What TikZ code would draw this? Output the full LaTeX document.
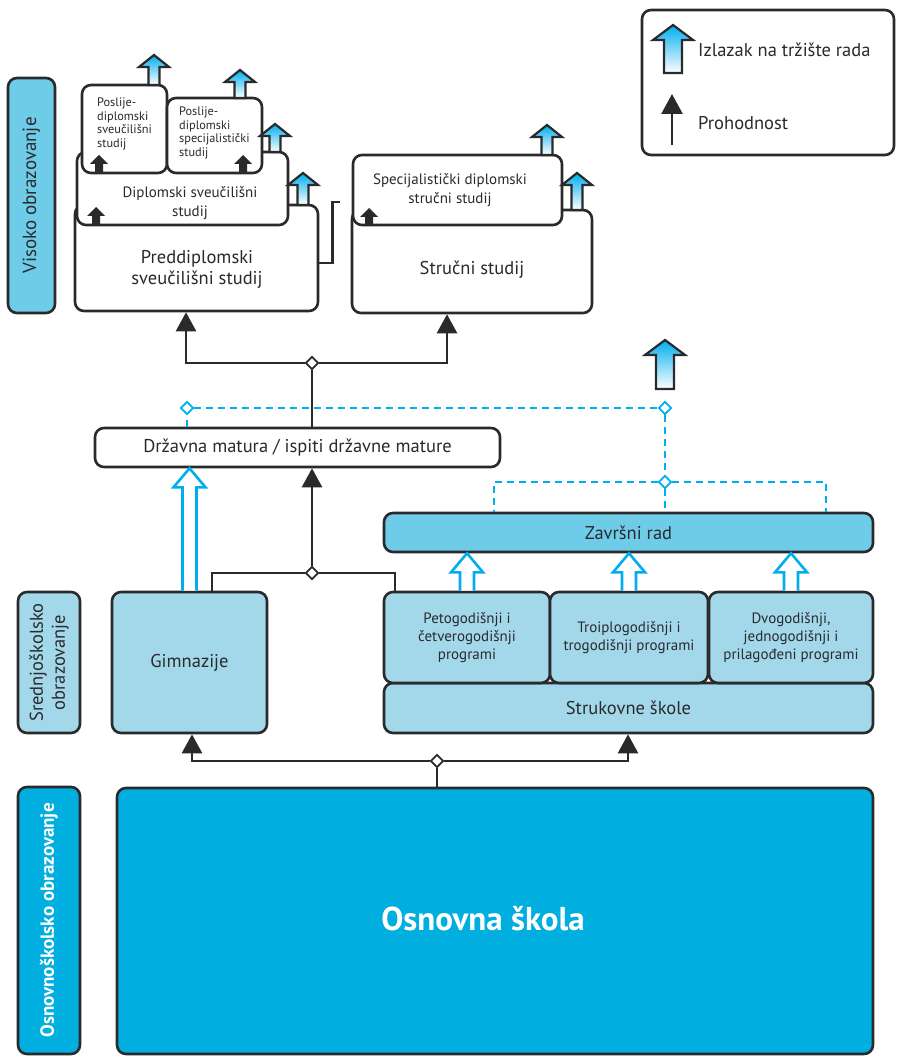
\documentclass[tikz,border=0pt]{standalone}
\usepackage{fontspec}
\setmainfont{PT Sans}
\usetikzlibrary{
    shapes.geometric,
    arrows.meta,
    positioning,
    calc
}

\definecolor{linec}{RGB}{42,42,44}
\definecolor{exitblue}{RGB}{0,174,239}
\definecolor{boxA}{RGB}{111,204,232}
\definecolor{boxB}{RGB}{163,216,235}
\definecolor{basec}{RGB}{0,174,224}

% exit arrow: x, base y, tip y, shaft half, head half, head length
\newcommand{\exitarrow}[6]{%
    \draw[exitline, top color=exitblue, bottom color=white]
        (#1-#4,#2) -- (#1-#4,#3+#6) -- (#1-#5,#3+#6) -- (#1,#3)
        -- (#1+#5,#3+#6) -- (#1+#4,#3+#6) -- (#1+#4,#2) -- cycle;}
% small pass arrow inside a box: x, base y, tip y
\newcommand{\passarrow}[3]{%
    \fill[linec] (#1-4,#2) -- (#1-4,#3+9) -- (#1-9,#3+9) -- (#1,#3)
        -- (#1+9,#3+9) -- (#1+4,#3+9) -- (#1+4,#2) -- cycle;}
% hollow blue arrow from one node up to another
\newcommand{\hollowup}[2]{%
    \draw[hollow] let \p1=(#1.north), \p2=(#2.south) in
        (\x1-7pt,\y1) -- (\x1-7pt,\y2-19pt) -- (\x1-16pt,\y2-19pt) -- (\x1,\y2)
        -- (\x1+16pt,\y2-19pt) -- (\x1+7pt,\y2-19pt) -- (\x1+7pt,\y1);}

\begin{document}
\begin{tikzpicture}[
    x=1pt, y=-1pt,
    box/.style={draw=linec, line width=2.6pt, rounded corners=9pt, text=linec,
                align=center, inner sep=0pt},
    hebox/.style={box, fill=white},
    midbox/.style={box, fill=boxB},
    txt/.style={text=linec, align=center, inner sep=0pt},
    big/.style={font=\fontsize{18.5}{21}\selectfont},
    mid/.style={font=\fontsize{15}{18.3}\selectfont},
    small/.style={font=\fontsize{12.3}{13.5}\selectfont},
    conn/.style={draw=linec, line width=2.6pt},
    pass/.style={conn, -{Triangle[length=19pt, width=20pt]}},
    dashb/.style={draw=exitblue, line width=2.6pt, dash pattern=on 7pt off 5pt},
    dia/.style={diamond, draw=linec, fill=white, line width=1.8pt, minimum size=13pt, inner sep=0pt},
    bdia/.style={dia, draw=exitblue},
    exitline/.style={draw=linec, line width=2.2pt, line join=miter},
    hollow/.style={draw=exitblue, fill=white, line width=2.6pt, line join=miter}
]
    \useasboundingbox (0,0) rectangle (896,1056);

    % Level labels
    \node[box, fill=boxA, rotate=90, minimum width=235pt, minimum height=47pt,
          font=\fontsize{19}{21}\selectfont] (lvis) at (31.5,195.5) {Visoko obrazovanje};
    \node[midbox, rotate=90, minimum width=141pt, minimum height=62pt,
          font=\fontsize{18.5}{22}\selectfont] (lsred) at (49,662.5) {Srednjoškolsko\\obrazovanje};
    \node[box, fill=basec, rotate=90, minimum width=267pt, minimum height=62pt, text=white,
          font=\bfseries\fontsize{19}{22}\selectfont] (losn) at (49,920.5) {Osnovnoškolsko obrazovanje};

    % Higher education
    \node[hebox, minimum width=243pt, minimum height=106pt] (pred) at (196.5,258) {};
    \node[txt, big] (predtxt) at (197,269) {Preddiplomski\\sveučilišni studij};
    \node[hebox, minimum width=211pt, minimum height=73pt] (dipl) at (182.5,188.5) {};
    \node[txt, mid] (dipltxt) at (190,203) {Diplomski sveučilišni\\studij};
    \node[hebox, minimum width=85pt, minimum height=88pt] (psv) at (124.5,129) {};
    \node[txt, small, align=left, anchor=north west] (psvtxt) at (97,98) {Poslije-\\diplomski\\sveučilišni\\studij};
    \node[hebox, minimum width=95pt, minimum height=75pt] (psp) at (214.5,135.5) {};
    \node[txt, small, align=left, anchor=north west] (psptxt) at (179,107) {Poslije-\\diplomski\\specijalistički\\studij};

    \node[hebox, minimum width=240pt, minimum height=103pt] (stru) at (472,261.5) {};
    \node[txt, big] (strutxt) at (472,270) {Stručni studij};
    \node[hebox, minimum width=209pt, minimum height=70pt] (spec) at (457.5,190) {};
    \node[txt, mid] (spectxt) at (450,190) {Specijalistički diplomski\\stručni studij};

    % Secondary level
    \node[hebox, big, minimum width=405pt, minimum height=39pt] (mat) at (297.5,447.5) {Državna matura / ispiti državne mature};
    \node[box, fill=boxA, big, minimum width=489pt, minimum height=39pt] (zav) at (628.5,532.5) {Završni rad};
    \node[midbox, big, minimum width=489pt, minimum height=50pt] (struk) at (628.5,708) {Strukovne škole};
    \node[midbox, mid, minimum width=166pt, minimum height=91pt] (prog1) at (467,637.5) {Petogodišnji i\\četverogodišnji\\programi};
    \node[midbox, mid, minimum width=158pt, minimum height=91pt] (prog2) at (629,637.5) {Troiplogodišnji i\\trogodišnji programi};
    \node[midbox, mid, minimum width=164pt, minimum height=91pt] (prog3) at (791,637.5) {Dvogodišnji,\\jednogodišnji i\\prilagođeni programi};
    \node[midbox, big, minimum width=155pt, minimum height=141pt] (gim) at (189.5,662.5) {Gimnazije};

    % Primary level
    \node[box, fill=basec, minimum width=756pt, minimum height=266pt] (osn) at (495,921) {};
    \node[txt, text=white, font=\bfseries\fontsize{33}{36}\selectfont] (osntxt) at (483,919) {Osnovna škola};

    % Legend
    \node[hebox, minimum width=252pt, minimum height=145pt] (leg) at (768,82.5) {};
    \node[txt, anchor=west, font=\fontsize{18.5}{21}\selectfont] (legexit) at (698,50) {Izlazak na tržište rada};
    \node[txt, anchor=west, font=\fontsize{18.5}{21}\selectfont] (legpass) at (698,123) {Prohodnost};
    \coordinate (lp1) at (672,145);
    \coordinate (lp2) at (672,94);
    \draw[pass, -{Triangle[length=20pt, width=21pt]}] (lp1) -- (lp2);

    % Diamonds
    \node[dia] (d1) at (312,363) {};
    \node[dia] (d2) at (312,573) {};
    \node[dia] (d3) at (437,761) {};
    \node[bdia] (d4) at (187,408) {};
    \node[bdia] (d5) at (665,408) {};
    \node[bdia] (d6) at (665,482) {};

    % Black connectors
    \draw[conn] (d1 |- mat.north) -- (d1);
    \draw[pass] (d1) -| ([xshift=-10.5pt]pred.south);
    \draw[pass] (d1) -| ([xshift=-25pt]stru.south);
    \draw[conn] ([xshift=22.5pt]gim.north) |- (d2);
    \draw[conn] (d2) -| ([xshift=-72pt]prog1.north);
    \draw[pass] (d2) -- (d2 |- mat.south);
    \draw[conn] (d3 |- osn.north) -- (d3);
    \draw[pass] (d3) -| ([xshift=2.5pt]gim.south);
    \draw[pass] (d3) -| ([xshift=-0.5pt]struk.south);
    \coordinate (predout) at (340,202);
    \draw[conn] ([yshift=-5pt]pred.east) -- ++(13,0) |- (predout);

    % Blue dashed connectors
    \draw[dashb] (d4 |- mat.north) -- (d4);
    \draw[dashb] (d4) -- (d5);
    \draw[dashb] (d5) -- (d6);
    \draw[dashb] (d6) -- (d6 |- zav.north);
    \draw[dashb] (d6) -| ([xshift=-134.5pt]zav.north);
    \draw[dashb] (d6) -| ([xshift=197.5pt]zav.north);

    % Hollow arrows
    \hollowup{gim}{mat}
    \hollowup{prog1}{zav}
    \hollowup{prog2}{zav}
    \hollowup{prog3}{zav}

    % Exit arrows
    \exitarrow{154}{85}{55}{5.5}{15}{12}
    \exitarrow{240}{98}{70}{5.5}{15}{12}
    \exitarrow{275}{152}{124}{5.5}{15}{12}
    \exitarrow{303}{205}{173}{5.5}{15}{12}
    \exitarrow{547}{155}{125}{5.5}{15}{12}
    \exitarrow{577}{210}{173}{5.5}{15}{12}
    \exitarrow{665}{389}{340}{9}{20}{15}
    \exitarrow{673}{73}{25}{9}{20}{15}

    % Pass arrows inside boxes
    \passarrow{99}{172}{155}
    \passarrow{243}{172}{155}
    \passarrow{96}{224}{207}
    \passarrow{369}{224}{208}

\end{tikzpicture}
\end{document}
